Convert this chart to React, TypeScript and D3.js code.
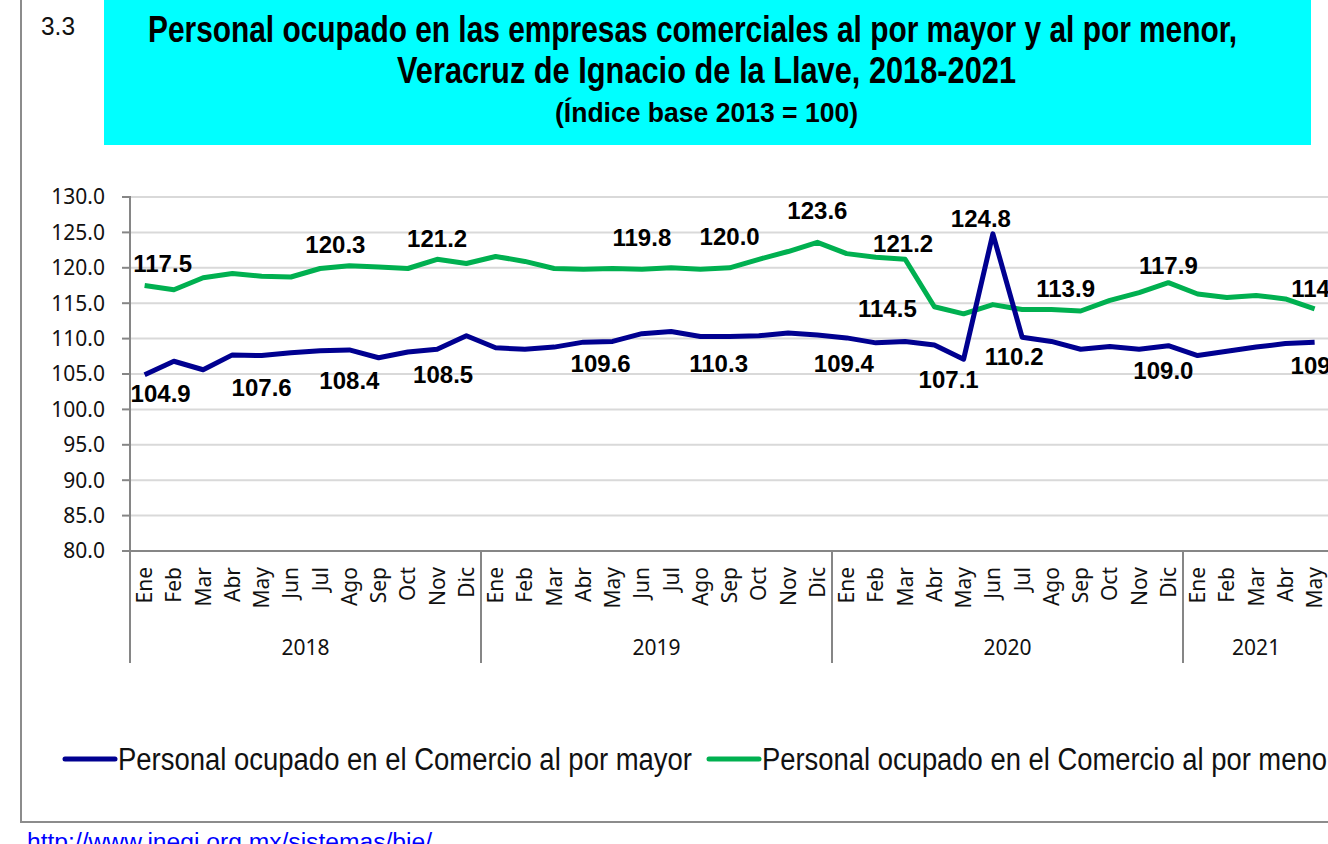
import React, { useEffect, useRef } from "react";
import * as d3 from "d3";

const months = ["Ene", "Feb", "Mar", "Abr", "May", "Jun", "Jul", "Ago", "Sep", "Oct", "Nov", "Dic"];
const years = ["2018", "2019", "2020", "2021"];
const monthsPerYear = [12, 12, 12, 5];

// Personal ocupado en el Comercio al por mayor
const mayor = [
  104.9, 106.8, 105.6, 107.7, 107.6, 108.0, 108.3, 108.4, 107.3, 108.1, 108.5, 110.4,
  108.7, 108.5, 108.8, 109.5, 109.6, 110.7, 111.0, 110.3, 110.3, 110.4, 110.8, 110.5,
  110.1, 109.4, 109.6, 109.1, 107.1, 124.8, 110.2, 109.6, 108.5, 108.9, 108.5, 109.0,
  107.6, 108.2, 108.8, 109.3, 109.5,
];

// Personal ocupado en el Comercio al por menor
const menor = [
  117.5, 116.9, 118.6, 119.2, 118.8, 118.7, 119.9, 120.3, 120.1, 119.9, 121.2, 120.6,
  121.6, 120.9, 119.9, 119.8, 119.9, 119.8, 120.0, 119.8, 120.0, 121.2, 122.3, 123.6,
  122.0, 121.5, 121.2, 114.5, 113.5, 114.8, 114.1, 114.1, 113.9, 115.4, 116.5, 117.9,
  116.3, 115.8, 116.1, 115.6, 114.2,
];

const yTicks = [80, 85, 90, 95, 100, 105, 110, 115, 120, 125, 130];

const seriesNames = [
  "Personal ocupado en el Comercio al por mayor",
  "Personal ocupado en el Comercio al por menor",
];

// which points carry a value label
const mayorLabelIdx = [0, 4, 7, 10, 16, 20, 25, 28, 29, 30, 35, 40];
const menorLabelIdx = [0, 7, 10, 17, 20, 23, 26, 27, 32, 35, 40];

// label nudges (dx, dy) from the point, as placed in the original sheet
const mayorNudge = [[16, 19], [0, 32], [0, 31], [6, 25], [-12, 22], [-11, 27], [-32, 21], [-15, 20], [-12, -15], [-8, 19], [-5, 25], [6, 23]];
const menorNudge = [[18, -22], [-14, -21], [0, -21], [0, -32], [0, -31], [0, -32], [-2, -16], [-47, 2], [-15, -22], [0, -17], [6, -20]];

const W = 1328;
const H = 844;
const BLUE = "#000090";
const GREEN = "#00B050";
// no narrow face installed: squeeze Liberation Sans with textLength instead
const NARROW = "'Liberation Sans', Arial, sans-serif";
const SANS = "'Noto Sans', 'Open Sans', sans-serif";
const ARIAL = "'Liberation Sans', Arial, sans-serif";

export default function App() {
  const ref = useRef<SVGSVGElement | null>(null);

  useEffect(() => {
    const svg = d3.select(ref.current);
    svg.selectAll("*").remove();

    const categories: { month: string; year: string }[] = [];
    years.forEach((yr, i) => {
      months.slice(0, monthsPerYear[i]).forEach((m) => categories.push({ month: m, year: yr }));
    });

    const left = 130;
    const step = 29.25;
    const x = d3
      .scaleBand<number>()
      .domain(d3.range(categories.length))
      .range([left, left + step * categories.length]);
    const cx = (i: number) => (x(i) as number) + x.bandwidth() / 2;
    const y = d3.scaleLinear().domain([80, 130]).range([551, 197]);

    const squeeze = (sel: any, len: number) =>
      sel.attr("textLength", len).attr("lengthAdjust", "spacingAndGlyphs");

    // outer frame
    svg.append("rect").attr("x", 21).attr("y", -10).attr("width", 1400).attr("height", 832)
      .attr("fill", "none").attr("stroke", "#8c8c8c").attr("stroke-width", 2);

    // title box
    svg.append("rect").attr("x", 104).attr("y", 0).attr("width", 1207).attr("height", 145).attr("fill", "#00FFFF");
    squeeze(svg.append("text").attr("x", 41).attr("y", 35).attr("font-family", NARROW).attr("font-size", 25)
      .attr("fill", "#111").text("3.3"), 34);
    const title = svg.append("g").attr("font-family", NARROW).attr("font-weight", "bold").attr("fill", "#000");
    squeeze(title.append("text").attr("x", 148).attr("y", 42).attr("font-size", 36)
      .text("Personal ocupado en las empresas comerciales al por mayor y al por menor,"), 1089);
    squeeze(title.append("text").attr("x", 397).attr("y", 83).attr("font-size", 36)
      .text("Veracruz de Ignacio de la Llave, 2018-2021"), 619);
    squeeze(title.append("text").attr("x", 555).attr("y", 122).attr("font-size", 27)
      .text("(Índice base 2013 = 100)"), 303);

    // gridlines + y axis
    const plotRight = left + step * categories.length;
    svg.append("g").selectAll("line").data(yTicks.filter((t) => t > 80)).join("line")
      .attr("x1", left).attr("x2", plotRight).attr("y1", (d) => y(d)).attr("y2", (d) => y(d))
      .attr("stroke", "#d9d9d9").attr("stroke-width", 2);
    svg.append("g").selectAll("line").data(yTicks).join("line")
      .attr("x1", 122).attr("x2", left).attr("y1", (d) => y(d)).attr("y2", (d) => y(d))
      .attr("stroke", "#868686").attr("stroke-width", 2);
    svg.append("g").selectAll("text").data(yTicks).join("text")
      .attr("x", 105).attr("y", (d) => y(d)).attr("dy", "0.35em").attr("text-anchor", "end")
      .attr("font-family", SANS).attr("font-size", 21).attr("fill", "#111")
      .text((d) => d.toFixed(1));
    svg.append("line").attr("x1", left).attr("x2", left).attr("y1", 196).attr("y2", 551)
      .attr("stroke", "#868686").attr("stroke-width", 2);
    svg.append("line").attr("x1", left).attr("x2", plotRight).attr("y1", 551).attr("y2", 551)
      .attr("stroke", "#868686").attr("stroke-width", 2);

    // month labels
    svg.append("g").selectAll("text").data(categories).join("text")
      .attr("transform", (d, i) => `translate(${cx(i)},567) rotate(-90)`)
      .attr("text-anchor", "end").attr("dy", "0.36em")
      .attr("font-family", SANS).attr("font-size", 21).attr("fill", "#111")
      .text((d) => d.month);

    // year groups
    let start = 0;
    years.forEach((yr, i) => {
      const x0 = x(start) as number;
      const n = monthsPerYear[i];
      const x1 = x0 + step * n;
      svg.append("line").attr("x1", x0).attr("x2", x0).attr("y1", 551).attr("y2", 663)
        .attr("stroke", "#868686").attr("stroke-width", 2);
      const mid = i === years.length - 1 ? x0 + step * 2.5 : (x0 + x1) / 2;
      svg.append("text").attr("x", mid).attr("y", 648).attr("dy", "0.35em").attr("text-anchor", "middle")
        .attr("font-family", SANS).attr("font-size", 21).attr("fill", "#111").text(yr);
      start += n;
    });

    // lines
    const line = d3.line<number>().x((d, i) => cx(i)).y((d) => y(d));
    svg.append("path").attr("d", line(menor)).attr("fill", "none").attr("stroke", GREEN)
      .attr("stroke-width", 5).attr("stroke-linejoin", "round");
    svg.append("path").attr("d", line(mayor)).attr("fill", "none").attr("stroke", BLUE)
      .attr("stroke-width", 5).attr("stroke-linejoin", "round");

    // value labels
    const addLabels = (vals: number[], idx: number[], nudge: number[][]) => {
      svg.append("g").selectAll("text").data(idx).join("text")
        .attr("x", (d, k) => cx(d) + nudge[k][0])
        .attr("y", (d, k) => y(vals[d]) + nudge[k][1])
        .attr("dy", "0.35em").attr("text-anchor", "middle")
        .attr("font-family", ARIAL).attr("font-weight", "bold").attr("font-size", 24).attr("fill", "#000")
        .text((d) => vals[d].toFixed(1));
    };
    addLabels(menor, menorLabelIdx, menorNudge);
    addLabels(mayor, mayorLabelIdx, mayorNudge);

    // legend
    const legend = [
      { name: seriesNames[0], color: BLUE, x: 65 },
      { name: seriesNames[1], color: GREEN, x: 709 },
    ];
    const lg = svg.append("g").selectAll("g").data(legend).join("g")
      .attr("transform", (d) => `translate(${d.x},759)`);
    lg.append("line").attr("x1", 0).attr("x2", 50).attr("stroke", (d) => d.color)
      .attr("stroke-width", 5).attr("stroke-linecap", "round");
    lg.append("text").attr("x", 53).attr("y", 0).attr("dy", "0.35em")
      .attr("font-family", NARROW).attr("font-size", 31).attr("fill", "#111")
      .attr("textLength", 574).attr("lengthAdjust", "spacingAndGlyphs")
      .text((d) => d.name);

    // source link
    squeeze(svg.append("text").attr("x", 27).attr("y", 850).attr("font-family", NARROW).attr("font-size", 23)
      .attr("fill", "#0000FF").attr("text-decoration", "underline")
      .text("http://www.inegi.org.mx/sistemas/bie/"), 405);
  }, []);

  return (
    <svg
      ref={ref}
      width={W}
      height={H}
      style={{ position: "absolute", left: 0, top: 0, display: "block", background: "#fff" }}
    />
  );
}
